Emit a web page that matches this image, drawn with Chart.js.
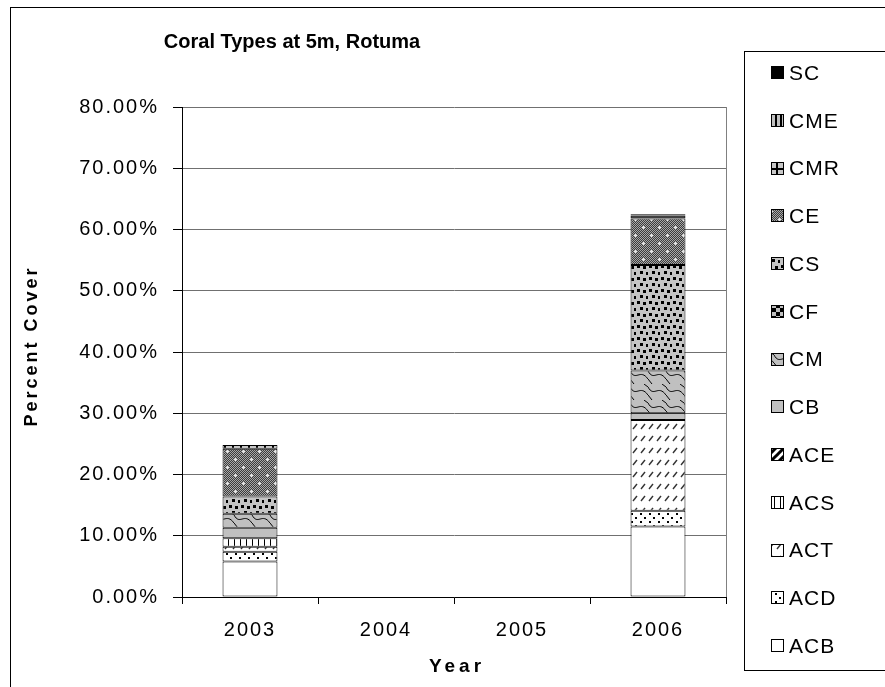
<!DOCTYPE html>
<html>
<head>
<meta charset="utf-8">
<script src="https://cdn.jsdelivr.net/npm/chart.js@4/dist/chart.umd.min.js"></script>
<style>
  html, body { margin: 0; padding: 0; background: #fff; }
  canvas { display: block; }
</style>
</head>
<body>
<canvas id="coralChart" width="885" height="687"></canvas>
<script>
// ── data (percent cover) ─────────────────────────────
const years = ['2003', '2004', '2005', '2006'];
const yTicks = [0, 10, 20, 30, 40, 50, 60, 70, 80];

const ACB = [5.8, null, null, 11.5];
const ACD = [1.6, null, null, 2.6];
const ACT = [0.8, null, null, 14.8];
const ACS = [1.4, null, null, null];
const ACE = [null, null, null, null];
const CB  = [1.7, null, null, 1.1];
const CM  = [2.3, null, null, 7.0];
const CF  = [null, null, null, null];
const CS  = [2.8, null, null, 17.2];
const CE  = [7.8, null, null, 7.6];
const CMR = [0.6, null, null, 0.5];
const CME = [null, null, null, null];
const SC  = [null, null, null, 0.2];

const FONT = '"Liberation Sans", Arial, sans-serif';

const canvasEl = document.getElementById('coralChart');
const mainCtx = canvasEl.getContext('2d');

// ── fill patterns ────────────────────────────────────
function tile(w, h, draw) {
  const c = document.createElement('canvas');
  c.width = w; c.height = h;
  const cx = c.getContext('2d');
  draw(cx, w, h);
  return mainCtx.createPattern(c, 'repeat');
}

const fills = {
  ACB: '#ffffff',
  ACD: tile(9, 8, (cx, w, h) => {
    cx.fillStyle = '#fff'; cx.fillRect(0, 0, w, h);
    cx.fillStyle = '#000';
    cx.fillRect(1, 1, 2, 2); cx.fillRect(5, 5, 2, 2);
  }),
  ACT: tile(8, 12, (cx, w, h) => {
    cx.fillStyle = '#fff'; cx.fillRect(0, 0, w, h);
    cx.strokeStyle = '#333'; cx.lineWidth = 1.4;
    cx.beginPath(); cx.moveTo(1, 9); cx.lineTo(5, 4); cx.stroke();
  }),
  ACS: tile(6, 6, (cx, w, h) => {
    cx.fillStyle = '#fff'; cx.fillRect(0, 0, w, h);
    cx.fillStyle = '#000'; cx.fillRect(0, 0, 1, h);
  }),
  ACE: tile(8, 8, (cx, w, h) => {
    cx.fillStyle = '#fff'; cx.fillRect(0, 0, w, h);
    cx.strokeStyle = '#000'; cx.lineWidth = 3;
    cx.beginPath(); cx.moveTo(-2, 10); cx.lineTo(10, -2); cx.stroke();
    cx.beginPath(); cx.moveTo(-2, 2); cx.lineTo(2, -2); cx.stroke();
    cx.beginPath(); cx.moveTo(6, 10); cx.lineTo(10, 6); cx.stroke();
  }),
  CB: '#c0c0c0',
  CM: tile(18, 16, (cx, w, h) => {
    cx.fillStyle = '#c0c0c0'; cx.fillRect(0, 0, w, h);
    cx.strokeStyle = '#000'; cx.lineWidth = 1;
    cx.beginPath(); cx.moveTo(0, 3); cx.bezierCurveTo(6, 14, 10, 0, 18, 11); cx.stroke();
    cx.beginPath(); cx.moveTo(0, 11); cx.lineTo(4, 16); cx.stroke();
    cx.beginPath(); cx.moveTo(14, 0); cx.lineTo(18, 3); cx.stroke();
  }),
  CF: tile(8, 8, (cx, w, h) => {
    cx.fillStyle = '#c0c0c0'; cx.fillRect(0, 0, w, h);
    cx.fillStyle = '#000'; cx.fillRect(0, 0, 4, 4); cx.fillRect(4, 4, 4, 4);
  }),
  CS: tile(12, 12, (cx, w, h) => {
    cx.fillStyle = '#c4c4c4'; cx.fillRect(0, 0, w, h);
    cx.fillStyle = '#000';
    cx.fillRect(1, 1, 3, 3); cx.fillRect(7, 2, 3, 3);
    cx.fillRect(4, 7, 3, 3); cx.fillRect(10, 8, 2, 3);
  }),
  CE: tile(16, 16, (cx, w, h) => {
    for (let y = 0; y < h; y++) for (let x = 0; x < w; x++) {
      cx.fillStyle = (x + y) % 2 ? '#3c3c3c' : '#a8a8a8';
      cx.fillRect(x, y, 1, 1);
    }
    cx.fillStyle = '#e8e8e8';
    cx.fillRect(3, 2, 1, 3); cx.fillRect(2, 3, 3, 1);
    cx.fillRect(11, 10, 1, 3); cx.fillRect(10, 11, 3, 1);
  }),
  CMR: tile(8, 8, (cx, w, h) => {
    cx.fillStyle = '#c8c8c8'; cx.fillRect(0, 0, w, h);
    cx.fillStyle = '#000'; cx.fillRect(0, 0, w, 2); cx.fillRect(0, 0, 2, h);
  }),
  CME: tile(5, 4, (cx, w, h) => {
    cx.fillStyle = '#c0c0c0'; cx.fillRect(0, 0, w, h);
    cx.fillStyle = '#000'; cx.fillRect(0, 0, 2, h);
  }),
  SC: '#000000'
};

const series = [
  ['ACB', ACB], ['ACD', ACD], ['ACT', ACT], ['ACS', ACS], ['ACE', ACE],
  ['CB', CB], ['CM', CM], ['CF', CF], ['CS', CS], ['CE', CE],
  ['CMR', CMR], ['CME', CME], ['SC', SC]
];

// ── chrome: outer border, titles, plot frame, legend ─
const chromePlugin = {
  id: 'chrome',
  beforeDraw(chart) {
    chart.ctx.letterSpacing = '2px';
  },
  afterDraw(chart) {
    const ctx = chart.ctx;
    const a = chart.chartArea;
    ctx.save();
    ctx.letterSpacing = '0px';
    // outer border
    ctx.strokeStyle = '#000'; ctx.lineWidth = 1;
    ctx.strokeRect(10.5, 7.5, 900, 700);
    // plot right edge
    ctx.strokeStyle = '#808080';
    ctx.beginPath(); ctx.moveTo(Math.round(a.right) + 0.5, a.top); ctx.lineTo(Math.round(a.right) + 0.5, a.bottom); ctx.stroke();
    // chart title
    ctx.fillStyle = '#000';
    ctx.font = 'bold 20px ' + FONT;
    ctx.textAlign = 'center'; ctx.textBaseline = 'middle';
    ctx.fillText('Coral Types at 5m, Rotuma', 292, 42);
    // axis titles
    ctx.font = 'bold 19px ' + FONT;
    ctx.letterSpacing = '4px';
    ctx.fillText('Year', (a.left + a.right) / 2 + 3, 667);
    ctx.save();
    ctx.translate(32, (a.top + a.bottom) / 2 - 6);
    ctx.rotate(-Math.PI / 2);
    ctx.font = 'bold 18px ' + FONT;
    ctx.letterSpacing = '3px';
    ctx.fillText('Percent Cover', 0, 0);
    ctx.restore();
    // legend
    ctx.letterSpacing = '1px';
    ctx.strokeStyle = '#000';
    ctx.strokeRect(744.5, 51.5, 200, 619);
    ctx.font = '21px ' + FONT;
    ctx.textAlign = 'left';
    const items = chart.data.datasets.slice().reverse();
    items.forEach((ds, i) => {
      const cy = 73 + i * 47.75;
      ctx.fillStyle = ds.backgroundColor;
      ctx.fillRect(771, Math.round(cy - 7), 13, 13);
      ctx.strokeStyle = '#000';
      ctx.strokeRect(771.5, Math.round(cy - 7) + 0.5, 12, 12);
      ctx.fillStyle = '#000';
      ctx.fillText(ds.label, 789, cy + 1);
    });
    ctx.restore();
  }
};

new Chart(canvasEl, {
  type: 'bar',
  data: {
    labels: years,
    datasets: series.map(([name, vals]) => ({
      label: name,
      data: vals,
      backgroundColor: fills[name],
      borderColor: '#000',
      borderWidth: 1,
      borderSkipped: false,
      barPercentage: 0.404,
      categoryPercentage: 1.0
    }))
  },
  options: {
    responsive: false,
    animation: false,
    layout: { padding: { left: 18, top: 107, right: 159, bottom: 31 } },
    plugins: { legend: { display: false }, tooltip: { enabled: false }, title: { display: false } },
    scales: {
      x: {
        stacked: true,
        grid: { offset: true, drawOnChartArea: false, tickLength: 7, color: '#000' },
        border: { color: '#000', width: 1 },
        ticks: { color: '#000', font: { family: FONT, size: 20 }, padding: 14, maxRotation: 0 }
      },
      y: {
        stacked: true,
        min: 0,
        max: 80,
        afterFit: s => { s.width = 164; },
        afterBuildTicks: s => { s.ticks = yTicks.map(v => ({ value: v })); },
        grid: { color: '#707070', tickColor: '#000', tickLength: 9 },
        border: { color: '#000', width: 1 },
        ticks: { color: '#000', font: { family: FONT, size: 20 }, padding: 14, callback: v => Number(v).toFixed(2) + '%' }
      }
    }
  },
  plugins: [chromePlugin]
});
</script>
</body>
</html>
